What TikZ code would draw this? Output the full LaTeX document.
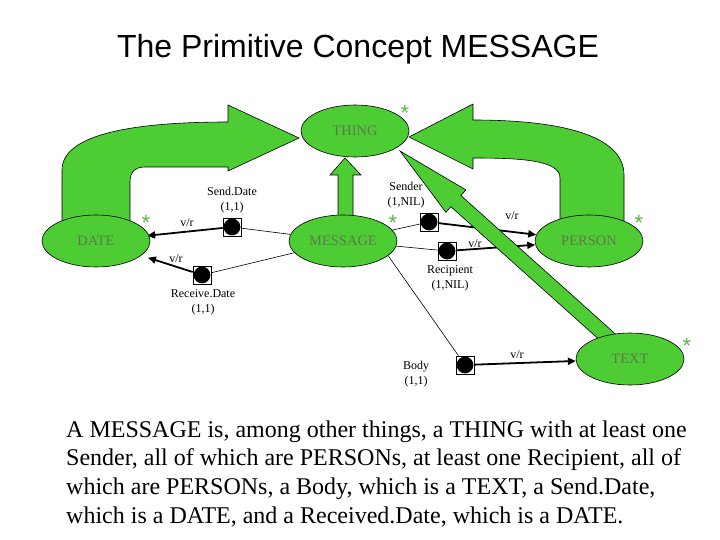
\documentclass[tikz,border=0pt]{standalone}
\usepackage{fontspec}
\setmainfont{Liberation Serif}
\newfontfamily\titlefont{Liberation Sans}
\usetikzlibrary{shapes.geometric,arrows.meta}
\definecolor{bandgreen}{RGB}{77,204,51}
\definecolor{labelgray}{RGB}{92,122,78}
\definecolor{stargreen}{RGB}{90,182,70}
\pgfdeclarelayer{lines}
\pgfdeclarelayer{bands}
\pgfsetlayers{lines,bands,main}
\tikzset{
  concept/.style={ellipse, draw=black, line width=0.6pt, fill=bandgreen, minimum width=108pt, minimum height=52pt, inner sep=0pt, text=labelgray, font=\fontsize{14.5}{16}\selectfont},
  band/.style={fill=bandgreen, draw=black, line width=0.6pt, line join=miter},
  slot/.style={draw=black, line width=0.6pt, fill=white, minimum size=18pt, inner sep=0pt, path picture={\fill[black] (path picture bounding box.center) circle (8.4pt);}},
  plainline/.style={draw=black, line width=0.6pt},
  vrarrow/.style={draw=black, line width=1.8pt, -{Triangle[length=8pt,width=7pt]}},
  smalllabel/.style={font=\fontsize{12}{15}\selectfont, align=center, inner sep=0pt},
  starmark/.style={text=stargreen, font=\titlefont\fontsize{22}{22}\selectfont, inner sep=0pt},
  bodyline/.style={anchor=base west, inner sep=0pt, font=\fontsize{24}{28}\selectfont},
}
\begin{document}
\begin{tikzpicture}[x=1pt,y=-1pt]
\useasboundingbox (0,0) rectangle (720,540);

% title
\node[font=\titlefont\fontsize{32}{36}\selectfont, anchor=base] (title) at (358,58) {The Primitive Concept MESSAGE};

% concepts
\node[concept] (thing) at (355,131) {THING};
\node[concept] (msg) at (343,241) {MESSAGE};
\node[concept] (date) at (96,241) {DATE};
\node[concept] (person) at (589,241) {PERSON};
\node[concept] (text) at (630,359) {TEXT};

% stars
\node[starmark] (s1) at (405,113) {*};
\node[starmark] (s2) at (393,223) {*};
\node[starmark] (s3) at (146,223) {*};
\node[starmark] (s4) at (639,223) {*};
\node[starmark] (s5) at (687,346) {*};

% slots
\node[slot] (sd) at (232,227) {};
\node[slot] (rd) at (202,275) {};
\node[slot] (se) at (429,222) {};
\node[slot] (re) at (447,251) {};
\node[slot] (bo) at (465,365) {};

% slot labels
\node[smalllabel] (sdl) at (232,200) {Send.Date\\(1,1)};
\node[smalllabel] (rdl) at (203,302) {Receive.Date\\(1,1)};
\node[smalllabel] (sel) at (406,195) {Sender\\(1,NIL)};
\node[smalllabel] (rel) at (450,278) {Recipient\\(1,NIL)};
\node[smalllabel] (bol) at (416,374) {Body\\(1,1)};

% v/r labels
\node[smalllabel] (v1) at (187,223) {v/r};
\node[smalllabel] (v2) at (176,259) {v/r};
\node[smalllabel] (v3) at (512,216) {v/r};
\node[smalllabel] (v4) at (475,244) {v/r};
\node[smalllabel] (v5) at (517,355) {v/r};

\begin{pgfonlayer}{lines}
  \draw[plainline] (msg) -- (sd);
  \draw[plainline] (msg) -- (rd);
  \draw[plainline] (msg) -- (se);
  \draw[plainline] (msg) -- (re);
  \draw[plainline] (msg.-18) -- (bo);
  \draw[vrarrow, shorten >=-2pt] (sd) -- (date);
  \draw[vrarrow, shorten >=7pt] (rd) -- (date);
  \draw[vrarrow] (se) -- (person);
  \draw[vrarrow] (re) -- (person);
  \draw[vrarrow] (bo) -- (text);
\end{pgfonlayer}

\begin{pgfonlayer}{bands}
  % DATE -> THING
  \draw[band] (62,230) -- (62,170) .. controls (62,135) and (130,122) .. (228,122)
     -- (228,105) -- (299,138) -- (228,171) -- (228,167) -- (145,167)
     .. controls (135,167) and (130,172) .. (130,182) -- (130,230) -- cycle;
  % PERSON -> THING
  \draw[band] (624,230) -- (624,175) .. controls (624,135) and (560,120) .. (473,120)
     -- (473,104) -- (409,137) -- (473,169) -- (473,158)
     .. controls (520,158) and (560,160) .. (560,178) -- (560,230) -- cycle;
  % MESSAGE -> THING
  \draw[band] (338,225) -- (338,175) -- (330,175) -- (345,158) -- (361,175) -- (353,175) -- (353,225) -- cycle;
  % TEXT -> THING
  \draw[band] (400,151) -- (465.9,189.9) -- (460.9,195.5) -- (621.1,339.1)
     -- (611.1,350.3) -- (450.9,206.7) -- (445.9,212.3) -- cycle;
\end{pgfonlayer}

% bottom text
\node[bodyline] (t1) at (66,437) {A MESSAGE is, among other things, a THING with at least one};
\node[bodyline] (t2) at (66,465.7) {Sender, all of which are PERSONs, at least one Recipient, all of};
\node[bodyline] (t3) at (66,494.4) {which are PERSONs, a Body, which is a TEXT, a Send.Date,};
\node[bodyline] (t4) at (66,523.1) {which is a DATE, and a Received.Date, which is a DATE.};
\end{tikzpicture}
\end{document}
